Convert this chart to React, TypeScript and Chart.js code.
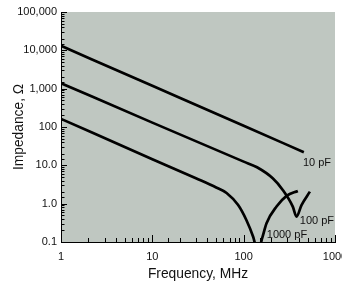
import React, { useEffect, useRef } from "react";
import { Chart, registerables } from "chart.js";

Chart.register(...registerables);

// ---- data ----
const freq10pF = [1, 10, 100, 456];
const z10pF = [13100, 1190, 108, 22];

const freq100pF = [1, 10, 100, 140, 208, 268, 345, 379, 430, 531];
const z100pF = [1390, 130, 12.5, 8.9, 4.6, 2.28, 0.84, 0.46, 0.92, 2.06];

const freq1000pF = [1, 10, 30, 50, 65, 87, 107, 127, 143, 160, 178, 229, 295, 392];
const z1000pF = [163, 14.5, 4.6, 2.65, 1.9, 0.92, 0.375, 0.137, 0.055, 0.13, 0.31, 0.84, 1.59, 2.15];

const seriesNames = ["10 pF", "100 pF", "1000 pF"];
// label anchors in data units (frequency MHz, impedance ohm)
const labelFreq = [445, 412, 179];
const labelZ = [11.6, 0.35, 0.152];

const xTickValues = [1, 10, 100, 1000];
const xTickLabels = ["1", "10", "100", "1000"];
const yTickValues = [0.1, 1, 10, 100, 1000, 10000, 100000];
const yTickLabels = ["0.1", "1.0", "10.0", "100", "1,000", "10,000", "100,000"];

const FONT = "'Liberation Sans', Arial, Helvetica, sans-serif";

function findLabel(v: number, vals: number[], labels: string[]): string {
  for (let i = 0; i < vals.length; i++) {
    if (Math.abs(Math.log10(v) - Math.log10(vals[i])) < 1e-6) return labels[i];
  }
  return "";
}

function isMajor(v: number) {
  const l = Math.log10(v);
  return Math.abs(l - Math.round(l)) < 1e-6;
}

const toPoints = (xs: number[], ys: number[]) => xs.map((x, i) => ({ x, y: ys[i] }));

const plotBg = {
  id: "plotBg",
  beforeDraw(chart: any) {
    const { ctx, chartArea } = chart;
    ctx.save();
    ctx.fillStyle = "#bfc7c1";
    ctx.fillRect(chartArea.left, chartArea.top, chartArea.right - chartArea.left, chartArea.bottom - chartArea.top);
    ctx.restore();
  },
};

const innerTicks = {
  id: "innerTicks",
  afterDraw(chart: any) {
    const { ctx, chartArea, scales } = chart;
    ctx.save();
    ctx.strokeStyle = "#000";
    ctx.lineWidth = 1;
    const ys = scales.y;
    ys.ticks.forEach((t: any) => {
      const py = Math.round(ys.getPixelForValue(t.value)) + 0.5;
      const len = isMajor(t.value) ? 6 : 3.5;
      ctx.beginPath();
      ctx.moveTo(chartArea.left, py);
      ctx.lineTo(chartArea.left + len, py);
      ctx.stroke();
    });
    const xs = scales.x;
    xs.ticks.forEach((t: any) => {
      const px = Math.round(xs.getPixelForValue(t.value)) + 0.5;
      const len = isMajor(t.value) ? 7 : 4;
      ctx.beginPath();
      ctx.moveTo(px, chartArea.bottom);
      ctx.lineTo(px, chartArea.bottom - len);
      ctx.stroke();
    });
    ctx.restore();
  },
};

const seriesLabels = {
  id: "seriesLabels",
  afterDatasetsDraw(chart: any) {
    const { ctx, scales } = chart;
    ctx.save();
    ctx.fillStyle = "#111";
    ctx.font = `11px ${FONT}`;
    ctx.textAlign = "left";
    ctx.textBaseline = "middle";
    seriesNames.forEach((name, i) => {
      const px = scales.x.getPixelForValue(labelFreq[i]);
      const py = scales.y.getPixelForValue(labelZ[i]);
      ctx.fillText(name, px, py);
    });
    ctx.restore();
  },
};

export default function App() {
  const ref = useRef<HTMLCanvasElement | null>(null);

  useEffect(() => {
    if (!ref.current) return;
    const lineStyle = {
      borderColor: "#000",
      borderWidth: 2.7,
      pointRadius: 0,
      fill: false,
      cubicInterpolationMode: "monotone" as const,
    };
    const chart = new Chart(ref.current, {
      type: "line",
      data: {
        datasets: [
          { label: seriesNames[0], data: toPoints(freq10pF, z10pF), ...lineStyle },
          { label: seriesNames[1], data: toPoints(freq100pF, z100pF), ...lineStyle },
          { label: seriesNames[2], data: toPoints(freq1000pF, z1000pF), ...lineStyle },
        ],
      },
      options: {
        animation: false,
        responsive: false,
        devicePixelRatio: 1,
        layout: { padding: { top: 12, right: 7, left: 0, bottom: 0 } },
        plugins: { legend: { display: false }, tooltip: { enabled: false }, title: { display: false } },
        scales: {
          x: {
            type: "logarithmic",
            min: 1,
            max: 1000,
            grid: { display: false, drawTicks: false },
            border: { display: true, color: "#000", width: 1 },
            ticks: {
              autoSkip: false,
              maxRotation: 0,
              padding: 8,
              color: "#111",
              font: { family: FONT, size: 11 },
              callback: (v: any) => findLabel(Number(v), xTickValues, xTickLabels),
            },
            title: {
              display: true,
              text: "Frequency, MHz",
              color: "#111",
              font: { family: FONT, size: 13.8 },
              padding: { top: 0, bottom: 2 },
            },
            afterFit: (s: any) => {
              s.height = 42;
              s.paddingLeft = 0;
              s.paddingRight = 0;
            },
          },
          y: {
            type: "logarithmic",
            min: 0.1,
            max: 100000,
            grid: { display: false, drawTicks: false },
            border: { display: true, color: "#000", width: 1 },
            ticks: {
              autoSkip: false,
              padding: 4,
              color: "#111",
              font: { family: FONT, size: 11 },
              callback: (v: any) => findLabel(Number(v), yTickValues, yTickLabels),
            },
            title: {
              display: true,
              text: "Impedance, Ω",
              color: "#111",
              font: { family: FONT, size: 13.8 },
              padding: { top: 11, bottom: 0 },
            },
            afterFit: (s: any) => {
              s.width = 61;
              s.paddingTop = 0;
              s.paddingBottom = 0;
            },
          },
        },
      },
      plugins: [plotBg, innerTicks, seriesLabels],
    });
    return () => chart.destroy();
  }, []);

  return (
    <div style={{ position: "absolute", left: 0, top: 0, width: 342, height: 284, background: "#fff" }}>
      <canvas ref={ref} width={342} height={284} />
    </div>
  );
}
